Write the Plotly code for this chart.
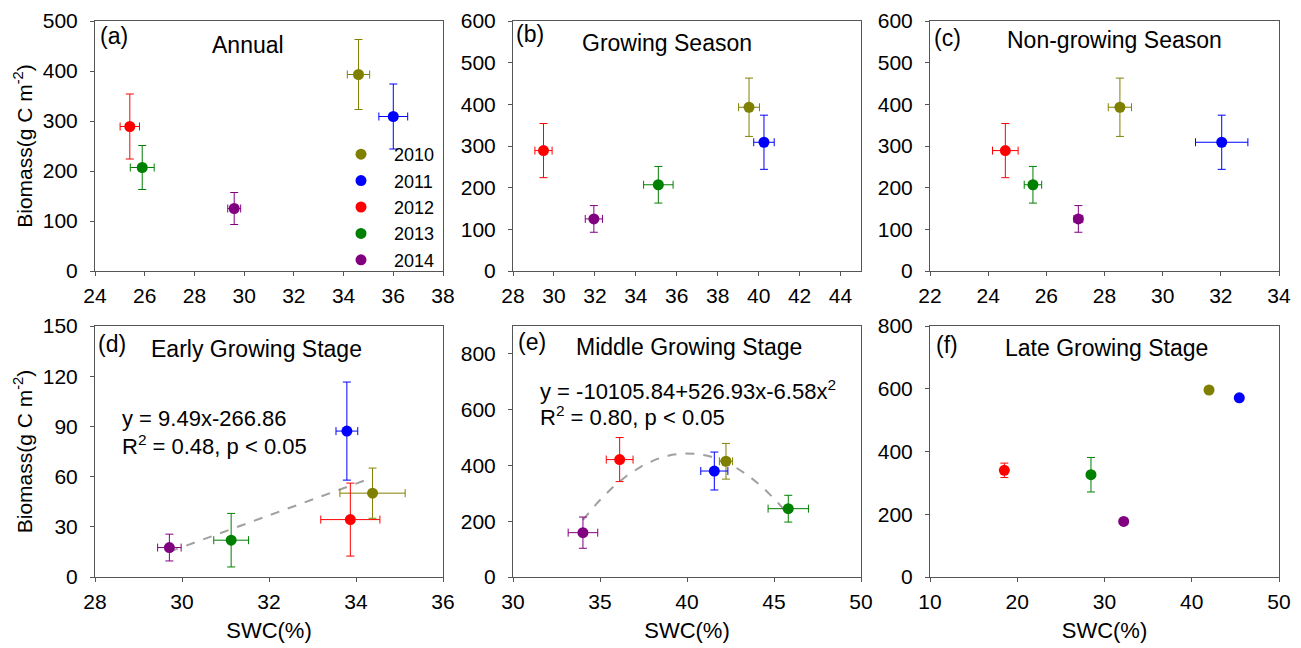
import numpy as np
import plotly.graph_objects as go

# ---- data -------------------------------------------------------------
years = ["2010", "2011", "2012", "2013", "2014"]
colors = ["#808000", "#0000FF", "#FF0000", "#008000", "#800080"]

# (a) annual
annual_swc = [34.6, 36.0, 25.4, 25.9, 29.6]
annual_swc_err = [0.45, 0.58, 0.39, 0.48, 0.26]
annual_bio = [393, 309, 289, 207, 125]
annual_bio_err = [70, 65, 65, 44, 32]

# (b) growing season
growing_swc = [39.53, 40.26, 29.49, 35.1, 31.95]
growing_swc_err = [0.51, 0.50, 0.42, 0.72, 0.42]
growing_bio = [393, 309, 289, 207, 125]
growing_bio_err = [70, 65, 65, 44, 32]

# (c) non-growing season
nongrowing_swc = [28.53, 32.03, 24.59, 25.54, 27.1]
nongrowing_swc_err = [0.40, 0.90, 0.44, 0.30, 0.15]
nongrowing_bio = [393, 309, 289, 207, 125]
nongrowing_bio_err = [70, 65, 65, 44, 32]

# (d) early growing stage
early_swc = [34.38, 33.79, 33.87, 31.13, 29.71]
early_swc_err = [0.75, 0.25, 0.68, 0.40, 0.27]
early_bio = [50.1, 87.2, 34.3, 22.0, 17.6]
early_bio_err = [15, 29.3, 21.8, 16, 8]

# (e) middle growing stage
middle_swc = [42.24, 41.57, 36.13, 45.82, 34.02]
middle_swc_err = [0.38, 0.78, 0.77, 1.16, 0.85]
middle_bio = [415, 380, 421, 245, 159]
middle_bio_err = [64, 68, 79, 48, 56]

# (f) late growing stage
late_swc = [41.98, 45.45, 18.52, 28.45, 32.2]
late_swc_err = [0, 0, 0, 0, 0]
late_bio = [596, 571, 340, 326, 177]
late_bio_err = [0, 0, 23, 55, 0]

# regression fits
early_fit = (9.49, -266.86)                 # slope, intercept
middle_fit = (-10105.84, 526.93, -6.58)     # c0, c1, c2

panels = [
    ("(a)", "Annual", annual_swc, annual_swc_err, annual_bio, annual_bio_err),
    ("(b)", "Growing Season", growing_swc, growing_swc_err, growing_bio, growing_bio_err),
    ("(c)", "Non-growing Season", nongrowing_swc, nongrowing_swc_err, nongrowing_bio, nongrowing_bio_err),
    ("(d)", "Early Growing Stage", early_swc, early_swc_err, early_bio, early_bio_err),
    ("(e)", "Middle Growing Stage", middle_swc, middle_swc_err, middle_bio, middle_bio_err),
    ("(f)", "Late Growing Stage", late_swc, late_swc_err, late_bio, late_bio_err),
]

x_ranges = [[24, 38], [28, 45], [22, 34], [28, 36], [30, 50], [10, 50]]
x_dticks = [2, 2, 2, 2, 5, 10]
y_ranges = [[0, 500], [0, 600], [0, 600], [0, 150], [0, 900], [0, 800]]
y_dticks = [100, 100, 100, 30, 200, 200]

# ---- layout geometry (pixels of a 1301 x 648 page) ---------------------
W, H = 1301, 648
col_px = [(95, 443), (513, 861), (930, 1279)]
row_px = [(21, 271), (326, 577)]

FONT = "Liberation Sans, Arial, sans-serif"
AXIS_COLOR = "#555555"

fig = go.Figure()

# fitted curves first so markers sit on top
fx = np.linspace(min(early_swc), max(early_swc), 50)
fig.add_trace(go.Scatter(x=fx, y=early_fit[0] * fx + early_fit[1], mode="lines",
                         line=dict(color="#a0a0a0", width=2, dash="dash"),
                         showlegend=False, hoverinfo="skip", xaxis="x4", yaxis="y4"))
mx = np.linspace(min(middle_swc), max(middle_swc), 100)
fig.add_trace(go.Scatter(x=mx, y=middle_fit[0] + middle_fit[1] * mx + middle_fit[2] * mx ** 2,
                         mode="lines", line=dict(color="#a0a0a0", width=2, dash="dash"),
                         showlegend=False, hoverinfo="skip", xaxis="x5", yaxis="y5"))

for p, (lab, title, sx, sxe, by, bye) in enumerate(panels):
    ax = "" if p == 0 else str(p + 1)
    for i, yr in enumerate(years):
        fig.add_trace(go.Scatter(
            x=[sx[i]], y=[by[i]], mode="markers", name=yr,
            marker=dict(color=colors[i], size=11),
            error_x=dict(type="data", array=[sxe[i]], color=colors[i], thickness=1, width=4,
                         visible=sxe[i] > 0),
            error_y=dict(type="data", array=[bye[i]], color=colors[i], thickness=1, width=4,
                         visible=bye[i] > 0),
            showlegend=(p == 0), legendgroup=yr,
            xaxis="x" + ax, yaxis="y" + ax,
        ))

axis_common = dict(showline=True, linecolor=AXIS_COLOR, linewidth=1, mirror=True,
                   ticks="outside", ticklen=4, tickcolor=AXIS_COLOR, showgrid=False,
                   zeroline=False, automargin=False,
                   tickfont=dict(family=FONT, size=21, color="black"))

layout = dict(
    width=W, height=H, margin=dict(l=0, r=0, t=0, b=0, autoexpand=False),
    paper_bgcolor="white", plot_bgcolor="white",
    font=dict(family=FONT, size=21, color="black"),
    legend=dict(x=328 / W, y=1 - 136 / H, xanchor="left", yanchor="top",
                font=dict(family=FONT, size=18, color="black"),
                itemwidth=56, bgcolor="rgba(0,0,0,0)", tracegroupgap=0),
)

for p in range(6):
    r, c = divmod(p, 3)
    ax = "" if p == 0 else str(p + 1)
    x0, x1 = col_px[c]
    y0, y1 = row_px[r]
    xa = dict(axis_common, domain=[x0 / W, x1 / W], range=x_ranges[p], dtick=x_dticks[p],
              tick0=x_ranges[p][0], anchor="y" + ax, ticklabelstandoff=2)
    ya = dict(axis_common, domain=[1 - y1 / H, 1 - y0 / H], range=y_ranges[p],
              dtick=y_dticks[p], tick0=0, anchor="x" + ax, ticklabelstandoff=8)
    if r == 1:
        xa["title"] = dict(text="SWC(%)", font=dict(family=FONT, size=22), standoff=10)
    if c == 0:
        ya["title"] = dict(text="Biomass(g C m<sup>-2</sup>)", font=dict(family=FONT, size=21),
                           standoff=4)
    layout["xaxis" + ax] = xa
    layout["yaxis" + ax] = ya

fig.update_layout(**layout)

# panel letters and titles
letter_pos = [(98, 36), (514, 34), (932, 38), (96, 344), (516, 342), (934, 345)]
title_pos = [(248, 45), (667, 43), (1114, 40), (256, 349), (689, 347), (1106, 348)]
for p, (lab, title, *_rest) in enumerate(panels):
    lx, ly = letter_pos[p]
    tx, ty = title_pos[p]
    fig.add_annotation(x=lx / W, y=1 - ly / H, xref="paper", yref="paper", text=lab,
                       showarrow=False, xanchor="left", yanchor="middle",
                       font=dict(family=FONT, size=23, color="black"))
    fig.add_annotation(x=tx / W, y=1 - ty / H, xref="paper", yref="paper", text=title,
                       showarrow=False, xanchor="center", yanchor="middle",
                       font=dict(family=FONT, size=23, color="black"))

# regression equations
eq_text = [
    (120, 418, "y = 9.49x-266.86"),
    (120, 445, "R<sup>2</sup> = 0.48, p < 0.05"),
    (538, 390, "y = -10105.84+526.93x-6.58x<sup>2</sup>"),
    (538, 416, "R<sup>2</sup> = 0.80, p < 0.05"),
]
for ex, ey, txt in eq_text:
    fig.add_annotation(x=ex / W, y=1 - ey / H, xref="paper", yref="paper", text=txt,
                       showarrow=False, xanchor="left", yanchor="middle",
                       font=dict(family=FONT, size=22, color="black"))

fig.write_html("out.html")
